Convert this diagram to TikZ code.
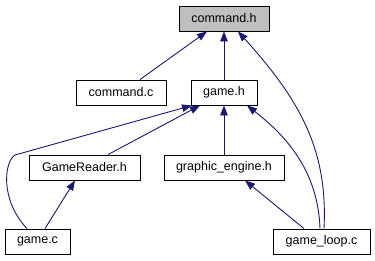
\documentclass[tikz,border=0pt]{standalone}
\usepackage{fontspec}
\setmainfont{Liberation Sans}
\usetikzlibrary{arrows.meta}
\definecolor{edgeblue}{HTML}{191970}
\definecolor{rootgray}{HTML}{BFBFBF}
\begin{document}
\begin{tikzpicture}[x=1bp,y=-1bp,
  file/.style={draw=black,line width=0.9bp,minimum height=25bp,inner sep=0pt,
    font=\fontsize{12.5bp}{15bp}\selectfont},
  dep/.style={draw=edgeblue,line width=0.9bp,
    -{Triangle[length=10bp,width=7.5bp,fill=edgeblue]}}]
\useasboundingbox (0,0) rectangle (375,261);
% files
\node[file,fill=rootgray,minimum width=90bp] (commandh) at (224,18.5) {command.h};
\node[file,minimum width=90bp] (commandc) at (121,92.5) {command.c};
\node[file,minimum width=66bp] (gameh) at (224,92.5) {game.h};
\node[file,minimum width=111bp] (gamereader) at (84.5,167.5) {GameReader.h};
\node[file,minimum width=120bp] (gfx) at (224,167.5) {graphic\_engine.h};
\node[file,minimum width=65bp] (gamec) at (37.5,241.5) {game.c};
\node[file,minimum width=97bp] (gameloop) at (321.5,241.5) {game\_loop.c};
% include dependencies
\draw[dep] ([xshift=19bp]commandc.north) -- ([xshift=-17bp]commandh.south);
\draw[dep] (gameh.north) -- (commandh.south);
\draw[dep] ([xshift=2.5bp]gameloop.north) .. controls (328,150) and (300,100) .. ([xshift=14bp]commandh.south);
\draw[dep] ([xshift=23.5bp]gamereader.north) -- ([xshift=-24bp]gameh.south);
\draw[dep] ([xshift=-10.5bp]gamec.north) .. controls (0,200) and (4,162) .. (15,155) -- ([xshift=-32bp]gameh.south);
\draw[dep] (gfx.north) -- (gameh.south);
\draw[dep] ([xshift=-1.5bp]gameloop.north) .. controls (318,170) and (285,135) .. ([xshift=23bp]gameh.south);
\draw[dep] ([xshift=7.5bp]gamec.north) -- ([xshift=-9.5bp]gamereader.south);
\draw[dep] ([xshift=-17.5bp]gameloop.north) -- ([xshift=21bp]gfx.south);
\end{tikzpicture}
\end{document}
